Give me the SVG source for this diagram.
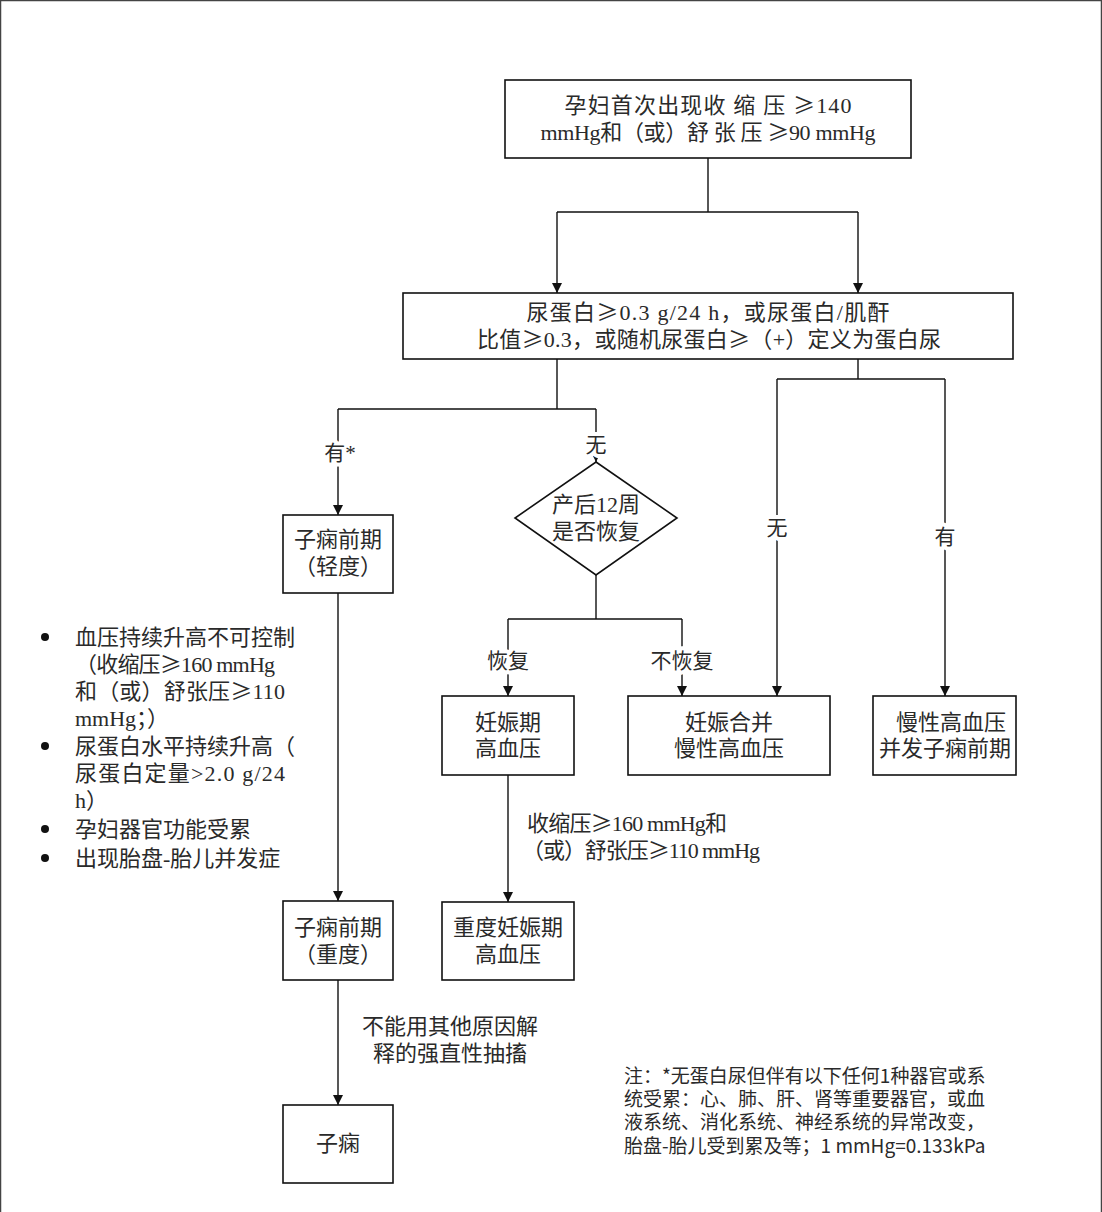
<svg xmlns="http://www.w3.org/2000/svg" width="1102" height="1212" viewBox="0 0 1102 1212">
<style>
.box{fill:#fff;stroke:#111;stroke-width:1.6}
.t{font-family:"Liberation Serif","Noto Sans CJK SC",serif;font-size:22px;fill:#2a2a2a;text-anchor:middle}
.tl{font-family:"Liberation Serif","Noto Sans CJK SC",serif;font-size:22px;fill:#2a2a2a}
.lbl{font-family:"Liberation Serif","Noto Sans CJK SC",serif;font-size:21px;fill:#2a2a2a;text-anchor:middle;stroke:#fff;stroke-width:8;paint-order:stroke;stroke-linejoin:round}
.note{font-family:"Noto Sans CJK SC","Liberation Sans",sans-serif;font-size:19px;fill:#2a2a2a}
.g{font-family:"Noto Sans CJK SC",sans-serif}
.c{fill:none;stroke:#111;stroke-width:1.4}
</style>
<defs>
<marker id="ah" viewBox="0 0 10 10" refX="10" refY="5" markerWidth="10" markerHeight="10" markerUnits="userSpaceOnUse" orient="auto">
<path d="M0,0 L10,5 L0,10 Z" fill="#111"/>
</marker>
</defs>
<path d="M0.5,1212 V0.5 H1101.5 V1212" fill="none" stroke="#444" stroke-width="1.5"/>
<g id="connectors">
<path class="c" d="M708,158 V212 M557,212 H858"/>
<path class="c" d="M557,212 V293" marker-end="url(#ah)"/>
<path class="c" d="M858,212 V293" marker-end="url(#ah)"/>
<path class="c" d="M557,359 V409 M338,409 H596"/>
<path class="c" d="M338,409 V515" marker-end="url(#ah)"/>
<path class="c" d="M596,409 V462" marker-end="url(#ah)"/>
<path class="c" d="M858,359 V379 M777,379 H945"/>
<path class="c" d="M777,379 V696" marker-end="url(#ah)"/>
<path class="c" d="M945,379 V696" marker-end="url(#ah)"/>
<path class="c" d="M596,575 V619 M508,619 H682"/>
<path class="c" d="M508,619 V696" marker-end="url(#ah)"/>
<path class="c" d="M682,619 V696" marker-end="url(#ah)"/>
<path class="c" d="M338,593 V901" marker-end="url(#ah)"/>
<path class="c" d="M508,775 V902" marker-end="url(#ah)"/>
<path class="c" d="M338,980 V1105" marker-end="url(#ah)"/>
<text class="lbl" x="340" y="460">有*</text>
<text class="lbl" x="596" y="452">无</text>
<text class="lbl" x="777" y="535">无</text>
<text class="lbl" x="945" y="544">有</text>
<text class="lbl" x="508" y="668">恢复</text>
<text class="lbl" x="682" y="668">不恢复</text>
<text class="tl" x="527" y="831" textLength="200" lengthAdjust="spacing">收缩压<tspan class="g">≥</tspan>160 mmHg和</text>
<text class="tl" x="522" y="858" textLength="238" lengthAdjust="spacing">（或）舒张压<tspan class="g">≥</tspan>110 mmHg</text>
<text class="t" x="450" y="1034">不能用其他原因解</text>
<text class="t" x="450" y="1061">释的强直性抽搐</text>
</g>
<g id="n-start">
<rect class="box" x="505" y="80" width="406" height="78"/>
<text class="t" x="708" y="113" textLength="287" lengthAdjust="spacing">孕妇首次出现收 缩 压 <tspan class="g">≥</tspan>140</text>
<text class="t" x="708" y="140" textLength="335" lengthAdjust="spacing">mmHg和（或）舒 张 压 <tspan class="g">≥</tspan>90 mmHg</text>
</g>
<g id="n-protein">
<rect class="box" x="403" y="293" width="610" height="66"/>
<text class="t" x="708" y="320" textLength="363" lengthAdjust="spacing">尿蛋白<tspan class="g">≥</tspan>0.3 g/24 h，或尿蛋白/肌酐</text>
<text class="t" x="709" y="347" textLength="464" lengthAdjust="spacing">比值<tspan class="g">≥</tspan>0.3，或随机尿蛋白<tspan class="g">≥</tspan>（+）定义为蛋白尿</text>
</g>
<g id="n-mild">
<rect class="box" x="283" y="515" width="110" height="78"/>
<text class="t" x="338" y="547">子痫前期</text>
<text class="t" x="338" y="574">（轻度）</text>
</g>
<g id="n-diamond">
<polygon class="box" points="596,462 677,518 596,575 515,518"/>
<text class="t" x="596" y="512">产后12周</text>
<text class="t" x="596" y="539">是否恢复</text>
</g>
<g id="n-gh">
<rect class="box" x="442" y="696" width="132" height="79"/>
<text class="t" x="508" y="730">妊娠期</text>
<text class="t" x="508" y="756">高血压</text>
</g>
<g id="n-chronic">
<rect class="box" x="628" y="696" width="202" height="79"/>
<text class="t" x="729" y="730">妊娠合并</text>
<text class="t" x="729" y="756">慢性高血压</text>
</g>
<g id="n-superimposed">
<rect class="box" x="873" y="696" width="143" height="79"/>
<text class="t" x="951" y="730">慢性高血压</text>
<text class="t" x="945" y="756">并发子痫前期</text>
</g>
<g id="n-criteria">
<circle cx="45" cy="637" r="4" fill="#111"/>
<circle cx="45" cy="746" r="4" fill="#111"/>
<circle cx="45" cy="829" r="4" fill="#111"/>
<circle cx="45" cy="858" r="4" fill="#111"/>
<text class="tl" x="75" y="645">血压持续升高不可控制</text>
<text class="tl" x="75" y="672" textLength="200" lengthAdjust="spacing">（收缩压<tspan class="g">≥</tspan>160 mmHg</text>
<text class="tl" x="75" y="699" textLength="210" lengthAdjust="spacing">和（或）舒张压<tspan class="g">≥</tspan>110</text>
<text class="tl" x="75" y="726">mmHg；）</text>
<text class="tl" x="75" y="754">尿蛋白水平持续升高（</text>
<text class="tl" x="75" y="781" textLength="210" lengthAdjust="spacing">尿蛋白定量&gt;2.0 g/24</text>
<text class="tl" x="75" y="808">h）</text>
<text class="tl" x="75" y="837">孕妇器官功能受累</text>
<text class="tl" x="75" y="866">出现胎盘-胎儿并发症</text>
</g>
<g id="n-severe">
<rect class="box" x="283" y="901" width="110" height="79"/>
<text class="t" x="338" y="935">子痫前期</text>
<text class="t" x="338" y="962">（重度）</text>
</g>
<g id="n-severe-gh">
<rect class="box" x="442" y="902" width="132" height="78"/>
<text class="t" x="508" y="935">重度妊娠期</text>
<text class="t" x="508" y="962">高血压</text>
</g>
<g id="n-eclampsia">
<rect class="box" x="283" y="1105" width="110" height="78"/>
<text class="t" x="338" y="1151">子痫</text>
</g>
<g id="note">
<text class="note" x="624" y="1083">注：*无蛋白尿但伴有以下任何1种器官或系</text>
<text class="note" x="624" y="1106">统受累：心、肺、肝、肾等重要器官，或血</text>
<text class="note" x="624" y="1129">液系统、消化系统、神经系统的异常改变，</text>
<text class="note" x="624" y="1153">胎盘-胎儿受到累及等；1 mmHg=0.133kPa</text>
</g>
</svg>
